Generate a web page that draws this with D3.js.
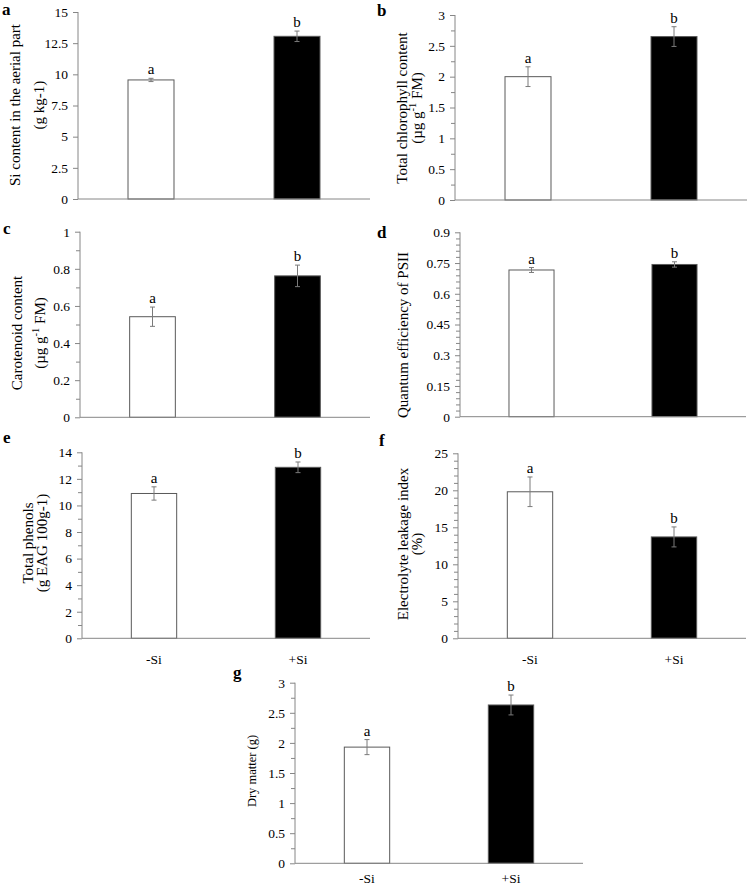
<!DOCTYPE html>
<html>
<head>
<meta charset="utf-8">
<script src="https://cdn.jsdelivr.net/npm/d3@7"></script>
<style>
  html, body { margin: 0; padding: 0; background: #fff; }
  svg { display: block; }
  text { font-family: "Liberation Serif", "Times New Roman", serif; fill: #000; }
</style>
</head>
<body>
<svg id="chart" width="749" height="886" font-family="'Liberation Serif', 'Times New Roman', serif"></svg>
<script>
// ---------- DATA ----------
const categories = ["-Si", "+Si"];
const sigLetters = ["a", "b"];
const panelIds = ["a", "b", "c", "d", "e", "f", "g"];

const siMeans = [9.55, 13.05];
const siErrors = [0.13, 0.42];
const siTicks = [0, 2.5, 5, 7.5, 10, 12.5, 15];

const chlMeans = [2.0, 2.65];
const chlErrors = [0.16, 0.16];
const chlTicks = [0, 0.5, 1, 1.5, 2, 2.5, 3];

const carMeans = [0.542, 0.762];
const carErrors = [0.052, 0.058];
const carTicks = [0, 0.2, 0.4, 0.6, 0.8, 1];

const qeMeans = [0.716, 0.743];
const qeErrors = [0.012, 0.013];
const qeTicks = [0, 0.15, 0.3, 0.45, 0.6, 0.75, 0.9];

const phenMeans = [10.9, 12.87];
const phenErrors = [0.5, 0.4];
const phenTicks = [0, 2, 4, 6, 8, 10, 12, 14];

const elMeans = [19.8, 13.7];
const elErrors = [2.0, 1.35];
const elTicks = [0, 5, 10, 15, 20, 25];

const dmMeans = [1.93, 2.63];
const dmErrors = [0.125, 0.165];
const dmTicks = [0, 0.5, 1, 1.5, 2, 2.5, 3];

// minor tick steps (0 = none)
const minorSteps = [0, 0.25, 0.1, 0.03, 1, 1, 0.25];

// axis titles: each line is a list of [text, isSuperscript]
const titles = [
  [[["Si content in the aerial part", 0]], [["(g kg-1)", 0]]],
  [[["Total chlorophyll content", 0]], [["(µg g", 0], ["-1", 1], [" FM)", 0]]],
  [[["Carotenoid content", 0]], [["(µg g", 0], ["-1", 1], [" FM)", 0]]],
  [[["Quantum efficiency of PSII", 0]]],
  [[["Total phenols", 0]], [["(g EAG 100g-1)", 0]]],
  [[["Electrolyte leakage index", 0]], [["(%)", 0]]],
  [[["Dry matter (g)", 0]]]
];

const meansList = [siMeans, chlMeans, carMeans, qeMeans, phenMeans, elMeans, dmMeans];
const errorsList = [siErrors, chlErrors, carErrors, qeErrors, phenErrors, elErrors, dmErrors];
const ticksList = [siTicks, chlTicks, carTicks, qeTicks, phenTicks, elTicks, dmTicks];

// ---------- LAYOUT ----------
const FONT = "'Liberation Serif', 'Times New Roman', serif";
const layout = [
  {x0: 78,  x1: 370, yTop: 12,    yBot: 199,   tx: [15, 39],   ty: 105, tSize: 15, lx: 2,   ly: 15,  showCat: false},
  {x0: 455, x1: 747, yTop: 15,    yBot: 200,   tx: [402, 417], ty: 108, tSize: 15, lx: 377, ly: 16,  showCat: false},
  {x0: 80,  x1: 370, yTop: 231.7, yBot: 417.3, tx: [17, 40],   ty: 333, tSize: 15, lx: 3,   ly: 234, showCat: false},
  {x0: 460, x1: 746, yTop: 232.3, yBot: 416.7, tx: [403],      ty: 335, tSize: 15, lx: 377, ly: 238, showCat: false},
  {x0: 82,  x1: 370, yTop: 452.3, yBot: 638.3, tx: [28, 42],   ty: 543, tSize: 15, lx: 3,   ly: 443, showCat: true, catY: 664},
  {x0: 458, x1: 746, yTop: 453.3, yBot: 638.3, tx: [403, 417], ty: 544, tSize: 15, lx: 379, ly: 446, showCat: true, catY: 664},
  {x0: 295, x1: 583, yTop: 682.7, yBot: 863.3, tx: [252],      ty: 771, tSize: 12.5, lx: 233, ly: 678, showCat: true, catY: 883}
];

const axisColor = "#868686";
const barStroke = "#5a5a5a";
const errColor = "#7a7a7a";
const fills = ["#ffffff", "#000000"];

const svg = d3.select("#chart");

panelIds.forEach((pid, i) => {
  const L = layout[i];
  const means = meansList[i], errs = errorsList[i], ticks = ticksList[i];
  const yMax = ticks[ticks.length - 1];
  const g = svg.append("g").attr("font-family", FONT);

  const x = d3.scaleBand().domain(categories).range([L.x0, L.x1])
    .paddingInner(0.685).paddingOuter(0.3425);
  const y = d3.scaleLinear().domain([0, yMax]).range([L.yBot, L.yTop]);

  // minor ticks
  if (minorSteps[i] > 0) {
    const n = Math.round(yMax / minorSteps[i]);
    const minorVals = d3.range(n + 1).map(k => +(k * minorSteps[i]).toFixed(4))
      .filter(v => !ticks.some(t => Math.abs(t - v) < 1e-6));
    const minorAxis = d3.axisLeft(y).tickValues(minorVals).tickSize(4).tickFormat("");
    const gm = g.append("g").attr("transform", `translate(${L.x0},0)`).call(minorAxis);
    gm.select(".domain").remove();
    gm.selectAll("line").attr("stroke", axisColor);
  }

  // major axis
  const yAxis = d3.axisLeft(y).tickValues(ticks).tickSize(5).tickPadding(5)
    .tickFormat(d => String(+d.toFixed(2)));
  const ga = g.append("g").attr("transform", `translate(${L.x0},0)`).call(yAxis)
    .attr("font-family", FONT).attr("font-size", 13.5);
  ga.select(".domain").attr("stroke", axisColor).attr("d", `M0,${L.yTop}V${L.yBot}`);
  ga.selectAll("line").attr("stroke", axisColor);
  ga.selectAll("text").style("font-family", FONT).attr("font-size", 13.5).attr("fill", "#000");

  // bars
  g.selectAll("rect.bar").data(categories).enter().append("rect")
    .attr("x", c => x(c))
    .attr("y", (c, j) => y(means[j]))
    .attr("width", x.bandwidth())
    .attr("height", (c, j) => y(0) - y(means[j]))
    .attr("fill", (c, j) => fills[j])
    .attr("stroke", barStroke).attr("stroke-width", 1);

  // x axis line
  g.append("line").attr("x1", L.x0).attr("x2", L.x1)
    .attr("y1", y(0)).attr("y2", y(0)).attr("stroke", axisColor).attr("stroke-width", 1);

  // error bars
  categories.forEach((c, j) => {
    const cx = x(c) + x.bandwidth() / 2;
    const top = y(means[j] + errs[j]), bot = y(means[j] - errs[j]);
    g.append("line").attr("x1", cx).attr("x2", cx).attr("y1", top).attr("y2", bot)
      .attr("stroke", errColor).attr("stroke-width", 1);
    [top, bot].forEach(yy => g.append("line").attr("x1", cx - 2.5).attr("x2", cx + 2.5)
      .attr("y1", yy).attr("y2", yy).attr("stroke", errColor).attr("stroke-width", 1));
    g.append("text").attr("x", cx).attr("y", top - 4).attr("text-anchor", "middle")
      .attr("font-size", 15).text(sigLetters[j]);
  });

  // category labels
  if (L.showCat) {
    categories.forEach(c => {
      g.append("text").attr("x", x(c) + x.bandwidth() / 2).attr("y", L.catY)
        .attr("text-anchor", "middle").attr("font-size", 13.5).text(c);
    });
  }

  // y titles
  titles[i].forEach((line, k) => {
    const t = g.append("text")
      .attr("transform", `translate(${L.tx[k]},${L.ty}) rotate(-90)`)
      .attr("text-anchor", "middle").attr("dominant-baseline", "central")
      .attr("font-size", L.tSize);
    line.forEach(([s, sup]) => {
      const ts = t.append("tspan").text(s);
      if (sup) ts.attr("font-size", L.tSize * 0.7).attr("dy", -5);
      else if (t.selectAll("tspan").size() > 1) ts.attr("dy", 5);
    });
  });

  // panel letter
  g.append("text").attr("x", L.lx).attr("y", L.ly)
    .attr("font-size", 17).attr("font-weight", "bold").text(pid);
});
</script>
</body>
</html>
